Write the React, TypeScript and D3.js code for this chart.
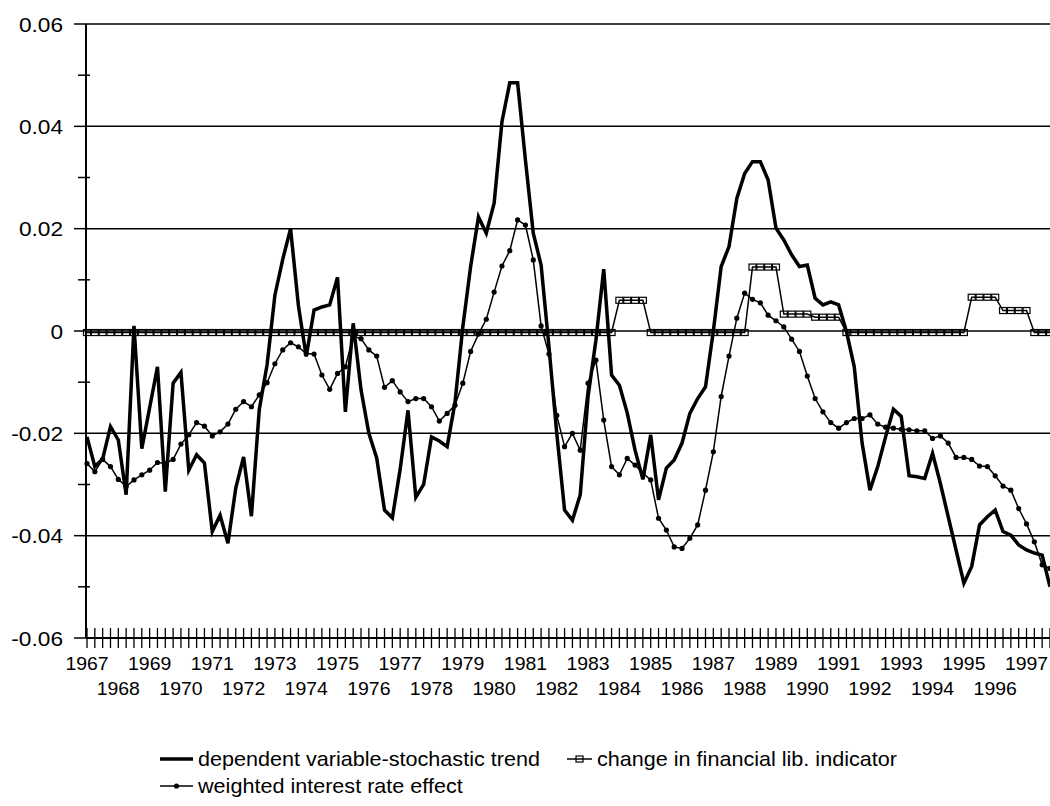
import React, { useRef, useEffect } from 'react'
import * as d3 from 'd3'

// quarterly observations 1967Q1 .. 1997Q4
const years = d3.range(1967, 1998)
const quarters = years.flatMap(y => [1, 2, 3, 4].map(q => `${y}Q${q}`))

const dependentTrend = [
  -0.0207, -0.0265, -0.0250, -0.0187, -0.0213, -0.0320, 0.0010, -0.0230,
  -0.0150, -0.0070, -0.0314, -0.0102, -0.0081, -0.0272, -0.0242, -0.0258,
  -0.0392, -0.0360, -0.0415, -0.0307, -0.0246, -0.0362, -0.0154, -0.0066,
  0.0070, 0.0140, 0.0200, 0.0050, -0.0050, 0.0041, 0.0047, 0.0051,
  0.0105, -0.0158, 0.0015, -0.0115, -0.0200, -0.0248, -0.0350, -0.0365,
  -0.0270, -0.0155, -0.0325, -0.0300, -0.0207, -0.0215, -0.0226, -0.0140,
  0.0008, 0.0126, 0.0223, 0.0191, 0.0250, 0.0409, 0.0485, 0.0485,
  0.0334, 0.0191, 0.0129, -0.0030, -0.0200, -0.0350, -0.0370, -0.0320,
  -0.0128, -0.0018, 0.0121, -0.0086, -0.0106, -0.0160, -0.0233, -0.0290,
  -0.0203, -0.0330, -0.0268, -0.0252, -0.0219, -0.0161, -0.0132, -0.0109,
  0.0000, 0.0126, 0.0165, 0.0259, 0.0308, 0.0331, 0.0331, 0.0295,
  0.0201, 0.0178, 0.0149, 0.0126, 0.0129, 0.0064, 0.0051, 0.0057,
  0.0051, -0.0001, -0.0070, -0.0219, -0.0311, -0.0265, -0.0207, -0.0153,
  -0.0167, -0.0283, -0.0285, -0.0288, -0.0239, -0.0298, -0.0363, -0.0428,
  -0.0493, -0.0460, -0.0379, -0.0363, -0.0350, -0.0392, -0.0399, -0.0418,
  -0.0428, -0.0434, -0.0438, -0.0500
]

const finLibChange = [
  -0.0003, -0.0003, -0.0003, -0.0003, -0.0003, -0.0003, -0.0003, -0.0003,
  -0.0003, -0.0003, -0.0003, -0.0003, -0.0003, -0.0003, -0.0003, -0.0003,
  -0.0003, -0.0003, -0.0003, -0.0003, -0.0003, -0.0003, -0.0003, -0.0003,
  -0.0003, -0.0003, -0.0003, -0.0003, -0.0003, -0.0003, -0.0003, -0.0003,
  -0.0003, -0.0003, -0.0003, -0.0003, -0.0003, -0.0003, -0.0003, -0.0003,
  -0.0003, -0.0003, -0.0003, -0.0003, -0.0003, -0.0003, -0.0003, -0.0003,
  -0.0003, -0.0003, -0.0003, -0.0003, -0.0003, -0.0003, -0.0003, -0.0003,
  -0.0003, -0.0003, -0.0003, -0.0003, -0.0003, -0.0003, -0.0003, -0.0003,
  -0.0003, -0.0003, -0.0003, -0.0003, 0.0060, 0.0060, 0.0060, 0.0060,
  -0.0003, -0.0003, -0.0003, -0.0003, -0.0003, -0.0003, -0.0003, -0.0003,
  -0.0003, -0.0003, -0.0003, -0.0003, -0.0003, 0.0125, 0.0125, 0.0125,
  0.0125, 0.0033, 0.0033, 0.0033, 0.0033, 0.0027, 0.0027, 0.0027,
  0.0027, -0.0003, -0.0003, -0.0003, -0.0003, -0.0003, -0.0003, -0.0003,
  -0.0003, -0.0003, -0.0003, -0.0003, -0.0003, -0.0003, -0.0003, -0.0003,
  -0.0003, 0.0066, 0.0066, 0.0066, 0.0066, 0.0040, 0.0040, 0.0040,
  0.0040, -0.0003, -0.0003, -0.0003
]

const interestEffect = [
  -0.0259, -0.0275, -0.0251, -0.0265, -0.0290, -0.0304, -0.0291, -0.0281,
  -0.0272, -0.0257, -0.0259, -0.0251, -0.0221, -0.0203, -0.0179, -0.0186,
  -0.0205, -0.0197, -0.0182, -0.0153, -0.0138, -0.0148, -0.0125, -0.0101,
  -0.0064, -0.0037, -0.0023, -0.0031, -0.0044, -0.0045, -0.0086, -0.0114,
  -0.0083, -0.0070, -0.0010, -0.0015, -0.0037, -0.0049, -0.0110, -0.0097,
  -0.0119, -0.0138, -0.0132, -0.0132, -0.0148, -0.0176, -0.0161, -0.0145,
  -0.0102, -0.0040, -0.0006, 0.0023, 0.0076, 0.0127, 0.0157, 0.0217,
  0.0207, 0.0139, 0.0010, -0.0045, -0.0165, -0.0226, -0.0200, -0.0233,
  -0.0102, -0.0057, -0.0174, -0.0265, -0.0281, -0.0249, -0.0262, -0.0278,
  -0.0291, -0.0366, -0.0389, -0.0422, -0.0425, -0.0405, -0.0379, -0.0311,
  -0.0236, -0.0128, -0.0049, 0.0025, 0.0074, 0.0062, 0.0055, 0.0031,
  0.0020, 0.0008, -0.0016, -0.0040, -0.0088, -0.0132, -0.0158, -0.0179,
  -0.0190, -0.0179, -0.0171, -0.0171, -0.0164, -0.0182, -0.0188, -0.0190,
  -0.0192, -0.0193, -0.0195, -0.0195, -0.0210, -0.0205, -0.0219, -0.0247,
  -0.0247, -0.0251, -0.0264, -0.0265, -0.0283, -0.0303, -0.0311, -0.0347,
  -0.0377, -0.0412, -0.0457, -0.0464
]

const yTicks = [0.06, 0.04, 0.02, 0, -0.02, -0.04, -0.06]
const yMinorTicks = [0.05, 0.03, 0.01, -0.01, -0.03, -0.05]

const legendItems = [
  { key: 'dep', label: 'dependent variable-stochastic trend' },
  { key: 'fin', label: 'change in financial lib. indicator' },
  { key: 'int', label: 'weighted interest rate effect' }
]

const FONT = '"Liberation Sans", Arial, sans-serif'

export default function App() {
  const svgRef = useRef(null)
  const width = 1050
  const height = 806

  useEffect(() => {
    const svg = d3.select(svgRef.current)
    svg.selectAll('*').remove()

    const left = 86, right = 1050, top = 24, bottom = 638

    const x = d3.scaleLinear().domain([0, quarters.length - 1]).range([left + 1, right])
    const y = d3.scaleLinear().domain([-0.06, 0.06]).range([bottom, top])

    const g = svg.append('g')

    // gridlines
    g.selectAll('.grid')
      .data(yTicks.filter(t => t > -0.06))
      .join('line')
        .attr('x1', left).attr('x2', right)
        .attr('y1', d => y(d)).attr('y2', d => y(d))
        .attr('stroke', '#000').attr('stroke-width', 1.5)

    // y axis
    g.append('line')
      .attr('x1', left).attr('x2', left)
      .attr('y1', top).attr('y2', bottom)
      .attr('stroke', '#000').attr('stroke-width', 2)

    g.selectAll('.ymaj')
      .data(yTicks)
      .join('line')
        .attr('x1', left - 12).attr('x2', left)
        .attr('y1', d => y(d)).attr('y2', d => y(d))
        .attr('stroke', '#000').attr('stroke-width', 1.5)

    g.selectAll('.ymin')
      .data(yMinorTicks)
      .join('line')
        .attr('x1', left - 8).attr('x2', left + 4)
        .attr('y1', d => y(d)).attr('y2', d => y(d))
        .attr('stroke', '#000').attr('stroke-width', 1.5)

    g.selectAll('.ylab')
      .data(yTicks)
      .join('text')
        .attr('transform', d => `translate(${left - 23},${y(d) + 7.5}) scale(1.08,1)`)
        .attr('text-anchor', 'end')
        .style('font-family', FONT)
        .style('font-size', '21px')
        .text(d => String(+d.toFixed(2)))

    // x axis
    g.append('line')
      .attr('x1', left).attr('x2', right)
      .attr('y1', bottom).attr('y2', bottom)
      .attr('stroke', '#000').attr('stroke-width', 2)

    g.selectAll('.xtick')
      .data(quarters)
      .join('line')
        .attr('x1', (d, i) => x(i)).attr('x2', (d, i) => x(i))
        .attr('y1', bottom - 10).attr('y2', bottom + 10)
        .attr('stroke', '#000').attr('stroke-width', 1.3)

    g.selectAll('.xlab')
      .data(years)
      .join('text')
        .attr('transform', (d, i) =>
          `translate(${x(i * 4)},${i % 2 === 0 ? bottom + 32 : bottom + 57}) scale(1.08,1)`)
        .attr('text-anchor', 'middle')
        .style('font-family', FONT)
        .style('font-size', '18px')
        .text(d => d)

    const line = d3.line()
      .x((d, i) => x(i))
      .y(d => y(d))

    // interest rate effect
    g.append('path')
      .attr('d', line(interestEffect))
      .attr('fill', 'none').attr('stroke', '#000').attr('stroke-width', 1.5)
    g.selectAll('.dot')
      .data(interestEffect)
      .join('circle')
        .attr('cx', (d, i) => x(i)).attr('cy', d => y(d))
        .attr('r', 2.6).attr('fill', '#000')

    // financial liberalisation indicator
    g.append('path')
      .attr('d', line(finLibChange))
      .attr('fill', 'none').attr('stroke', '#000').attr('stroke-width', 1.5)
    g.selectAll('.sq')
      .data(finLibChange)
      .join('rect')
        .attr('x', (d, i) => x(i) - 3.5).attr('y', d => y(d) - 3)
        .attr('width', 7).attr('height', 6)
        .attr('fill', 'none').attr('stroke', '#000').attr('stroke-width', 1.2)

    // dependent variable
    g.append('path')
      .attr('d', line(dependentTrend))
      .attr('fill', 'none').attr('stroke', '#000').attr('stroke-width', 3.5)
      .attr('stroke-linejoin', 'miter')

    // legend
    const lg = svg.append('g')
    const rows = [
      { item: legendItems[0], x: 160, y: 759 },
      { item: legendItems[1], x: 567, y: 759 },
      { item: legendItems[2], x: 160, y: 786 }
    ]
    rows.forEach(r => {
      const w = r.item.key === 'fin' ? 25 : 33
      lg.append('line')
        .attr('x1', r.x).attr('x2', r.x + w)
        .attr('y1', r.y).attr('y2', r.y)
        .attr('stroke', '#000')
        .attr('stroke-width', r.item.key === 'dep' ? 3.5 : 1.5)
      if (r.item.key === 'fin') {
        lg.append('rect')
          .attr('x', r.x + w / 2 - 3.5).attr('y', r.y - 3)
          .attr('width', 7).attr('height', 6)
          .attr('fill', 'none').attr('stroke', '#000').attr('stroke-width', 1.2)
      }
      if (r.item.key === 'int') {
        lg.append('circle')
          .attr('cx', r.x + w / 2).attr('cy', r.y).attr('r', 2.6).attr('fill', '#000')
      }
      lg.append('text')
        .attr('transform', `translate(${r.x + w + 5},${r.y + 7}) scale(1.08,1)`)
        .style('font-family', FONT)
        .style('font-size', '20px')
        .text(r.item.label)
    })
  }, [])

  return (
    <svg
      ref={svgRef}
      width={width}
      height={height}
      style={{ position: 'absolute', left: 0, top: 0, background: '#fff' }}
    />
  )
}
